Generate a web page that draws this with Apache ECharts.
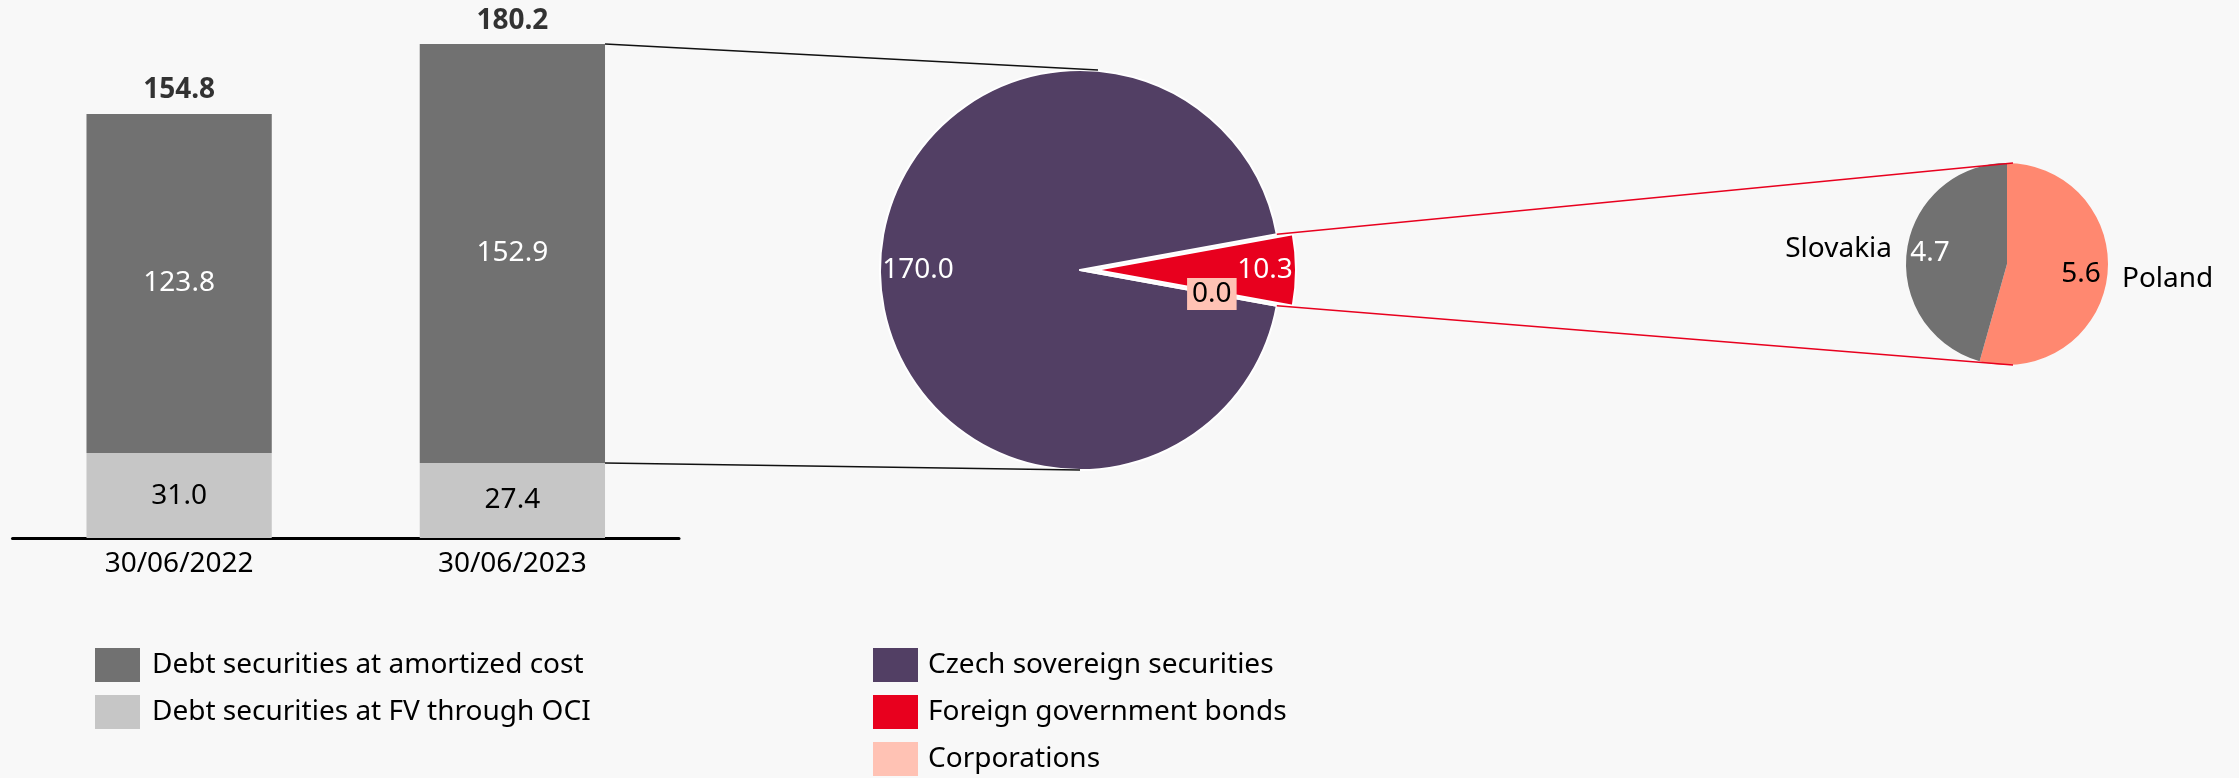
<!DOCTYPE html>
<html>
<head>
<meta charset="utf-8">
<script src="https://cdn.jsdelivr.net/npm/echarts@6/dist/echarts.min.js"></script>
<style>
  html, body { margin: 0; padding: 0; background: #f8f8f8; }
  #chart { width: 2239px; height: 778px; }
</style>
</head>
<body>
<div id="chart"></div>
<script>
// 日期 / 堆叠柱
const dates = ['30/06/2022', '30/06/2023'];
const amortizedCost = [123.8, 152.9];
const fvThroughOci = [31.0, 27.4];
const totals = [154.8, 180.2];
const barNames = ['Debt securities at amortized cost', 'Debt securities at FV through OCI'];

// 30/06/2023 的构成
const issuerNames = ['Czech sovereign securities', 'Foreign government bonds', 'Corporations'];
const issuerValues = [170.0, 10.3, 0.0];

// 外国政府债券按国家
const countryNames = ['Poland', 'Slovakia'];
const countryValues = [5.6, 4.7];

const FONT = 'Noto Sans';
const colors = {
  amort: '#717171', oci: '#c6c6c6',
  czech: '#523f64', foreign: '#e8001e', corp: '#ffc2b4',
  poland: '#ff8870', slovakia: '#717171'
};
const issuerColors = [colors.czech, colors.foreign, colors.corp];

// 饼图布局（像素）
const bigPie = { cx: 1080, cy: 270, r: 200, offset: 16 };
const smallPie = { cx: 2007, cy: 264, r: 101 };

const sum = arr => arr.reduce((a, b) => a + b, 0);
const issuerTotal = sum(issuerValues);
// 让外国债券扇区居中朝右
const bigStart = (issuerValues[0] + issuerValues[1] / 2) / issuerTotal * 360;

function midAngle(values, start, i) {
  const before = sum(values.slice(0, i));
  return (start - (before + values[i] / 2) / sum(values) * 360) * Math.PI / 180;
}

// 内部标签放在靠近外沿的位置
function insideLabels(values, start, pie, fracs, offsets) {
  return function (params) {
    const i = params.dataIndex;
    const a = midAngle(values, start, i);
    const d = pie.r * fracs[i] + (offsets ? offsets[i] : 0);
    return { x: pie.cx + d * Math.cos(a), y: pie.cy - d * Math.sin(a) };
  };
}

const fmt = p => Number(p.value).toFixed(1);

const chart = echarts.init(document.getElementById('chart'));

const legendBase = {
  orient: 'vertical',
  top: 648,
  padding: 0,
  icon: 'rect',
  itemWidth: 45,
  itemHeight: 34,
  itemGap: 13,
  itemStyle: { borderWidth: 0 },
  selectedMode: false,
  textStyle: { fontFamily: FONT, fontSize: 28, color: '#000' }
};

const option = {
  animation: false,
  backgroundColor: '#f8f8f8',
  textStyle: { fontFamily: FONT },
  legend: [
    Object.assign({}, legendBase, {
      left: 95, data: barNames,
      textStyle: Object.assign({}, legendBase.textStyle, { padding: [6, 0, 0, 7] })
    }),
    Object.assign({}, legendBase, {
      left: 873, data: issuerNames,
      textStyle: Object.assign({}, legendBase.textStyle, { padding: [6, 0, 0, 5] })
    })
  ],
  grid: { left: 12.5, right: 1560, top: 1, bottom: 240 },
  xAxis: {
    type: 'category',
    data: dates,
    axisLine: { lineStyle: { color: '#000', width: 3 } },
    axisTick: { show: false },
    axisLabel: { fontSize: 28, color: '#000', margin: 12, fontFamily: FONT }
  },
  yAxis: { type: 'value', min: 0, max: 196, show: false },
  series: [
    {
      name: barNames[1], type: 'bar', stack: 'total', barWidth: '55.6%',
      data: fvThroughOci,
      itemStyle: { color: colors.oci },
      label: { show: true, position: 'inside', fontSize: 28, color: '#000', formatter: fmt }
    },
    {
      name: barNames[0], type: 'bar', stack: 'total', barWidth: '55.6%',
      data: amortizedCost,
      itemStyle: { color: colors.amort },
      label: { show: true, position: 'inside', fontSize: 28, color: '#fff', formatter: fmt }
    },
    {
      type: 'scatter', data: totals, symbolSize: 1, silent: true,
      itemStyle: { color: 'rgba(0,0,0,0)' },
      label: { show: true, position: 'top', distance: 9, fontSize: 28, fontWeight: 'bold', color: '#000', formatter: fmt }
    },
    {
      type: 'pie',
      center: [bigPie.cx, bigPie.cy],
      radius: [0, bigPie.r],
      startAngle: bigStart,
      clockwise: true,
      selectedMode: 'single',
      selectedOffset: bigPie.offset,
      silent: true,
      itemStyle: { borderColor: '#fff', borderWidth: 2 },
      select: { itemStyle: { borderColor: '#fff', borderWidth: 2 } },
      label: { show: false },
      labelLine: { show: false },
      data: issuerValues.map((v, i) => ({
        name: issuerNames[i],
        value: v,
        selected: i === 1,
        itemStyle: { color: issuerColors[i] }
      }))
    },
    {
      // 大饼的数值标签（透明层）
      type: 'pie',
      center: [bigPie.cx, bigPie.cy],
      radius: [0, bigPie.r],
      startAngle: bigStart,
      clockwise: true,
      silent: true,
      z: 3,
      itemStyle: { color: 'rgba(0,0,0,0)', borderWidth: 0 },
      label: { show: true, position: 'inside', fontSize: 28, formatter: fmt },
      labelLine: { show: false },
      labelLayout: insideLabels(issuerValues, bigStart, bigPie, [0.81, 0.845, 0.67], [0, bigPie.offset, 0]),
      data: issuerValues.map((v, i) => ({
        name: issuerNames[i],
        value: v,
        label: i === 2
          ? { color: '#000', backgroundColor: colors.corp, padding: [2, 5] }
          : { color: '#fff' }
      }))
    },
    {
      type: 'pie',
      center: [smallPie.cx, smallPie.cy],
      radius: [0, smallPie.r],
      startAngle: 90,
      clockwise: true,
      silent: true,
      label: { show: true, position: 'inside', fontSize: 28, formatter: fmt },
      labelLine: { show: false },
      labelLayout: insideLabels(countryValues, 90, smallPie, [0.74, 0.77]),
      data: countryValues.map((v, i) => ({
        name: countryNames[i],
        value: v,
        itemStyle: { color: [colors.poland, colors.slovakia][i] },
        label: { color: i === 0 ? '#000' : '#fff' }
      }))
    },
    {
      // 国家名称（外部）
      type: 'pie',
      center: [smallPie.cx, smallPie.cy],
      radius: [0, smallPie.r],
      startAngle: 90,
      clockwise: true,
      silent: true,
      itemStyle: { color: 'rgba(0,0,0,0)' },
      label: { show: true, position: 'outside', fontSize: 28, color: '#000', formatter: '{b}', alignTo: 'none', distanceToLabelLine: 5 },
      labelLine: { show: false, length: 10, length2: 0 },
      data: countryValues.map((v, i) => ({ name: countryNames[i], value: v }))
    }
  ]
};

chart.setOption(option);

// 连接线：柱 → 大饼 → 小饼
const pA = chart.convertToPixel({ gridIndex: 0 }, [0, 0]);
const pB = chart.convertToPixel({ gridIndex: 0 }, [1, 0]);
const halfBar = (pB[0] - pA[0]) * 0.556 / 2;
const barRight = pB[0] + halfBar;
const yTop = chart.convertToPixel({ gridIndex: 0 }, [1, amortizedCost[1] + fvThroughOci[1]])[1];
const yMid = chart.convertToPixel({ gridIndex: 0 }, [1, fvThroughOci[1]])[1];
const half = issuerValues[1] / issuerTotal * Math.PI;
const ex = bigPie.cx + bigPie.r * Math.cos(half);
const ey = bigPie.r * Math.sin(half);

const line = (x1, y1, x2, y2, color) => ({
  type: 'line', silent: true, z: 10,
  shape: { x1, y1, x2, y2 },
  style: { stroke: color, lineWidth: 1.5 }
});

chart.setOption({
  graphic: [
    line(barRight, yTop, bigPie.cx + 18, bigPie.cy - bigPie.r, '#111'),
    line(barRight, yMid, bigPie.cx, bigPie.cy + bigPie.r, '#111'),
    line(ex, bigPie.cy - ey, smallPie.cx + 6, smallPie.cy - smallPie.r, colors.foreign),
    line(ex, bigPie.cy + ey, smallPie.cx + 6, smallPie.cy + smallPie.r, colors.foreign)
  ]
});
</script>
</body>
</html>
